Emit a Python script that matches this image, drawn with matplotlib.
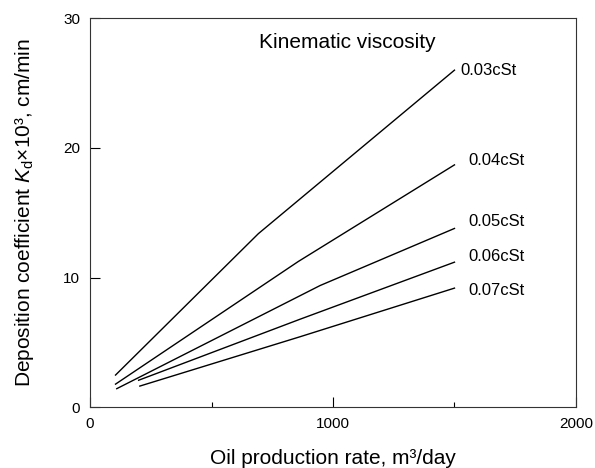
import matplotlib
matplotlib.use("Agg")
import matplotlib.pyplot as plt
from matplotlib.ticker import FixedLocator

plt.rcParams['font.family'] = ['Liberation Sans', 'DejaVu Sans']
plt.rcParams['mathtext.fontset'] = 'custom'
plt.rcParams['mathtext.rm'] = 'Liberation Sans'
plt.rcParams['mathtext.it'] = 'Liberation Sans:italic'

# Data
labels = ["0.03cSt", "0.04cSt", "0.05cSt", "0.06cSt", "0.07cSt"]
x_003 = [105, 693, 1500]
y_003 = [2.5, 13.4, 26.0]
x_004 = [105, 857, 1500]
y_004 = [1.8, 11.25, 18.7]
x_005 = [110, 947, 1500]
y_005 = [1.45, 9.4, 13.8]
x_006 = [200, 864, 1500]
y_006 = [2.1, 6.8, 11.2]
x_007 = [205, 864, 1500]
y_007 = [1.65, 5.45, 9.2]
label_x = [1523, 1556, 1556, 1556, 1556]
label_y = [26.0, 19.0, 14.3, 11.6, 9.05]

fig = plt.figure(figsize=(5.95, 4.68), dpi=100)
ax = fig.add_axes([0.1513, 0.1293, 0.8167, 0.8317])

series = [(x_003, y_003), (x_004, y_004), (x_005, y_005), (x_006, y_006), (x_007, y_007)]
for (xs, ys), lab, lx, ly in zip(series, labels, label_x, label_y):
    ax.plot(xs, ys, color='black', lw=1.0)
    ax.text(lx, ly, lab, fontsize=12, va='center', ha='left')

ax.text(1058, 28.1, "Kinematic viscosity", fontsize=15, ha='center', va='center')

ax.set_xlim(0, 2000)
ax.set_ylim(0, 30)
ax.xaxis.set_major_locator(FixedLocator([0, 1000, 2000]))
ax.xaxis.set_minor_locator(FixedLocator([500, 1500]))
ax.yaxis.set_major_locator(FixedLocator([0, 10, 20, 30]))
ax.tick_params(which='major', direction='in', length=7, width=0.8, labelsize=11, pad=7)
ax.tick_params(which='minor', direction='in', length=3.5, width=0.8)
for sp in ax.spines.values():
    sp.set_linewidth(0.8)
    sp.set_color('#333333')

ax.set_xlabel("Oil production rate, m³/day", fontsize=15, labelpad=13)
ax.set_ylabel("Deposition coefficient $K_\\mathrm{d}$×10³, cm/min", fontsize=15, labelpad=20)

fig.savefig("out.png", dpi=100)
